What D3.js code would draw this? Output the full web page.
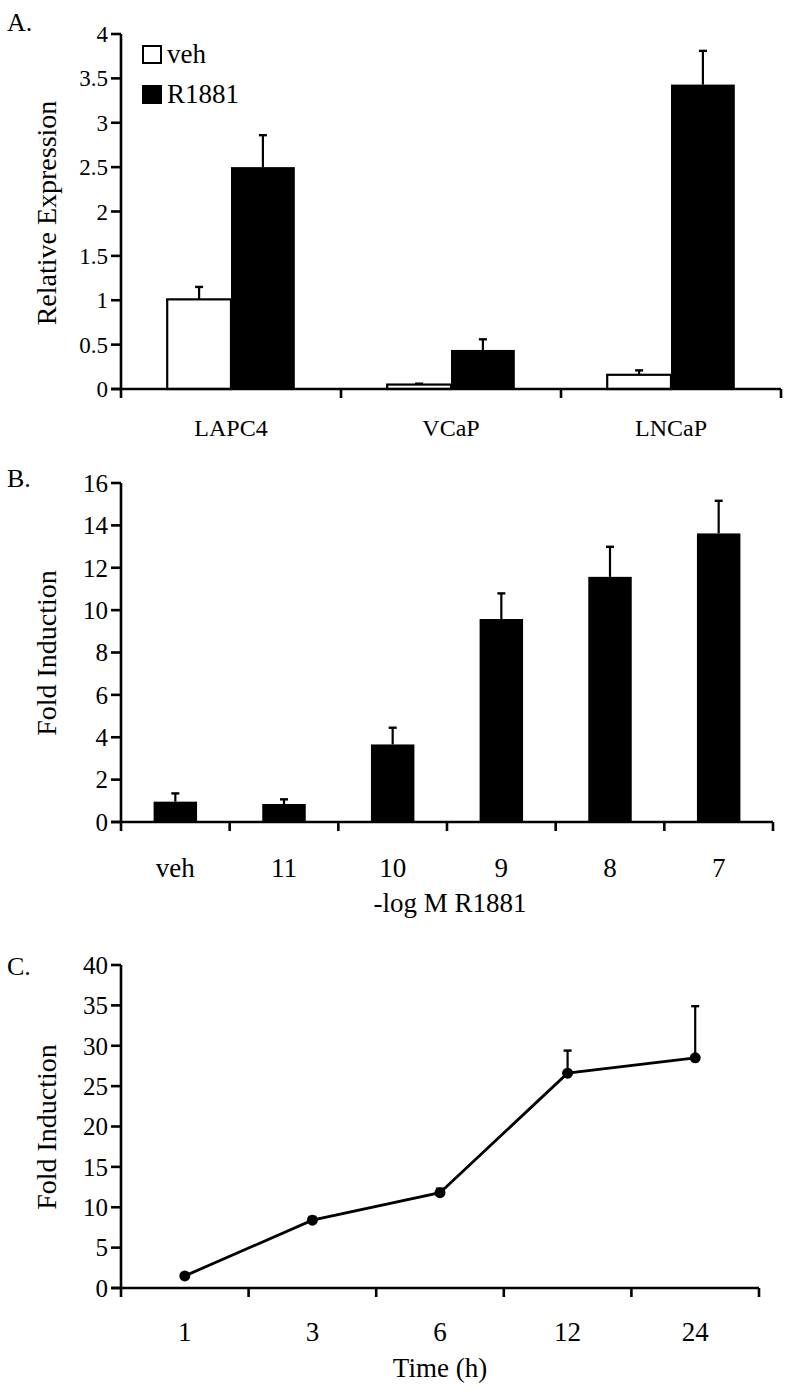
<!DOCTYPE html>
<html><head><meta charset="utf-8">
<script src="https://cdn.jsdelivr.net/npm/d3@7"></script>
<style>
html,body{margin:0;padding:0;background:#fff;}
</style></head>
<body>
<svg id="chart" width="800" height="1394" font-family="'Liberation Serif', 'Times New Roman', Times, serif"></svg>
<script>
// ---- Panel A data ----
const catsA = ["LAPC4", "VCaP", "LNCaP"];
const seriesA = ["veh", "R1881"];
const vehA = [1.01, 0.05, 0.16];
const vehErrA = [0.14, 0.01, 0.05];
const r1881A = [2.50, 0.44, 3.43];
const r1881ErrA = [0.36, 0.12, 0.38];
const ticksA = [0, 0.5, 1, 1.5, 2, 2.5, 3, 3.5, 4];

// ---- Panel B data ----
const catsB = ["veh", "11", "10", "9", "8", "7"];
const valsB = [0.96, 0.85, 3.66, 9.58, 11.57, 13.62];
const errB = [0.39, 0.22, 0.79, 1.21, 1.42, 1.54];
const ticksB = [0, 2, 4, 6, 8, 10, 12, 14, 16];

// ---- Panel C data ----
const catsC = ["1", "3", "6", "12", "24"];
const valsC = [1.5, 8.4, 11.8, 26.6, 28.5];
const errC = [0.2, 0.4, 0.5, 2.8, 6.4];
const ticksC = [0, 5, 10, 15, 20, 25, 30, 35, 40];

const FONT = "'Liberation Serif', 'Times New Roman', Times, serif";
const svg = d3.select("#chart");
const AX = 2.6;

function txt(g) {
  return g.append("text").attr("font-family", FONT).attr("fill", "#000");
}

function frame(g, x, y, ticks, cats, tickFont, catFont, catY) {
  const [x0, x1] = x.range();
  const [yb, yt] = y.range();
  g.append("line").attr("x1", x0).attr("x2", x0).attr("y1", yb + 1).attr("y2", yt)
    .attr("stroke", "#000").attr("stroke-width", AX);
  g.selectAll(".yt").data(ticks).join("line")
    .attr("x1", x0 - 10).attr("x2", x0).attr("y1", d => y(d)).attr("y2", d => y(d))
    .attr("stroke", "#000").attr("stroke-width", AX);
  g.selectAll(".yl").data(ticks).join("text")
    .attr("font-family", FONT)
    .attr("x", x0 - 13).attr("y", d => y(d)).attr("dy", "0.35em")
    .attr("text-anchor", "end").attr("font-size", tickFont).text(d => d);
  g.append("line").attr("x1", x0 - 10).attr("x2", x1).attr("y1", yb).attr("y2", yb)
    .attr("stroke", "#000").attr("stroke-width", AX);
  const bounds = cats.map(c => x(c)).concat([x1]);
  g.selectAll(".xt").data(bounds).join("line")
    .attr("x1", d => d).attr("x2", d => d).attr("y1", yb).attr("y2", yb + 9)
    .attr("stroke", "#000").attr("stroke-width", AX);
  g.selectAll(".xl").data(cats).join("text")
    .attr("font-family", FONT)
    .attr("x", d => x(d) + x.bandwidth() / 2).attr("y", catY)
    .attr("text-anchor", "middle").attr("font-size", catFont).text(d => d);
}

function ylabel(g, text, cx, cy, size) {
  txt(g).attr("transform", `translate(${cx},${cy}) rotate(-90)`)
    .attr("text-anchor", "middle").attr("dy", "0.35em").attr("font-size", size).text(text);
}

function errbar(g, cx, yTop, yVal) {
  g.append("line").attr("x1", cx).attr("x2", cx).attr("y1", yVal).attr("y2", yTop)
    .attr("stroke", "#000").attr("stroke-width", 2.2);
  g.append("line").attr("x1", cx - 4).attr("x2", cx + 4).attr("y1", yTop).attr("y2", yTop)
    .attr("stroke", "#000").attr("stroke-width", 2.4);
}

// ================= Panel A =================
{
  const g = svg.append("g");
  const x = d3.scaleBand().domain(catsA).range([121, 781]).padding(0);
  const y = d3.scaleLinear().domain([0, 4]).range([389, 34]);
  const bw = x.bandwidth() * 0.29;
  txt(g).attr("x", 7).attr("y", 31).attr("font-size", 26).text("A.");
  catsA.forEach((c, i) => {
    const cx = x(c) + x.bandwidth() / 2;
    g.append("rect").attr("x", cx - bw).attr("y", y(vehA[i])).attr("width", bw)
      .attr("height", y(0) - y(vehA[i])).attr("fill", "#fff").attr("stroke", "#000").attr("stroke-width", 2.2);
    errbar(g, cx - bw / 2, y(vehA[i] + vehErrA[i]), y(vehA[i]));
    g.append("rect").attr("x", cx).attr("y", y(r1881A[i])).attr("width", bw)
      .attr("height", y(0) - y(r1881A[i])).attr("fill", "#000");
    errbar(g, cx + bw / 2, y(r1881A[i] + r1881ErrA[i]), y(r1881A[i]));
  });
  frame(g, x, y, ticksA, catsA, 23, 24, 436);
  ylabel(g, "Relative Expression", 46, 213, 28);
  seriesA.forEach((s, i) => {
    g.append("rect").attr("x", 143).attr("y", 46 + i * 40).attr("width", 18).attr("height", 17)
      .attr("fill", i === 0 ? "#fff" : "#000").attr("stroke", "#000").attr("stroke-width", 2);
    txt(g).attr("x", 167).attr("y", 63 + i * 40).attr("font-size", 27).text(s);
  });
}

// ================= Panel B =================
{
  const g = svg.append("g");
  const x = d3.scaleBand().domain(catsB).range([121, 773]).padding(0);
  const y = d3.scaleLinear().domain([0, 16]).range([822, 483]);
  const bw = x.bandwidth() * 0.4;
  txt(g).attr("x", 7).attr("y", 487).attr("font-size", 26).text("B.");
  catsB.forEach((c, i) => {
    const cx = x(c) + x.bandwidth() / 2;
    g.append("rect").attr("x", cx - bw / 2).attr("y", y(valsB[i])).attr("width", bw)
      .attr("height", y(0) - y(valsB[i])).attr("fill", "#000");
    errbar(g, cx, y(valsB[i] + errB[i]), y(valsB[i]));
  });
  frame(g, x, y, ticksB, catsB, 25, 27, 877);
  ylabel(g, "Fold Induction", 46, 653, 28);
  txt(g).attr("x", 450).attr("y", 912).attr("text-anchor", "middle")
    .attr("font-size", 27).text("-log M R1881");
}

// ================= Panel C =================
{
  const g = svg.append("g");
  const x = d3.scaleBand().domain(catsC).range([121, 759]).padding(0);
  const y = d3.scaleLinear().domain([0, 40]).range([1288, 965]);
  txt(g).attr("x", 7).attr("y", 975).attr("font-size", 26).text("C.");
  const cx = c => x(c) + x.bandwidth() / 2;
  catsC.forEach((c, i) => {
    errbar(g, cx(c), y(valsC[i] + errC[i]), y(valsC[i]));
  });
  const line = d3.line().x((d, i) => cx(catsC[i])).y(d => y(d));
  g.append("path").datum(valsC).attr("d", line).attr("fill", "none")
    .attr("stroke", "#000").attr("stroke-width", 2.8);
  g.selectAll(".pt").data(valsC).join("circle")
    .attr("cx", (d, i) => cx(catsC[i])).attr("cy", d => y(d)).attr("r", 5.5).attr("fill", "#000");
  frame(g, x, y, ticksC, catsC, 25, 27, 1341);
  ylabel(g, "Fold Induction", 46, 1127, 28);
  txt(g).attr("x", 440).attr("y", 1377).attr("text-anchor", "middle")
    .attr("font-size", 27).text("Time (h)");
}
</script>
</body></html>
